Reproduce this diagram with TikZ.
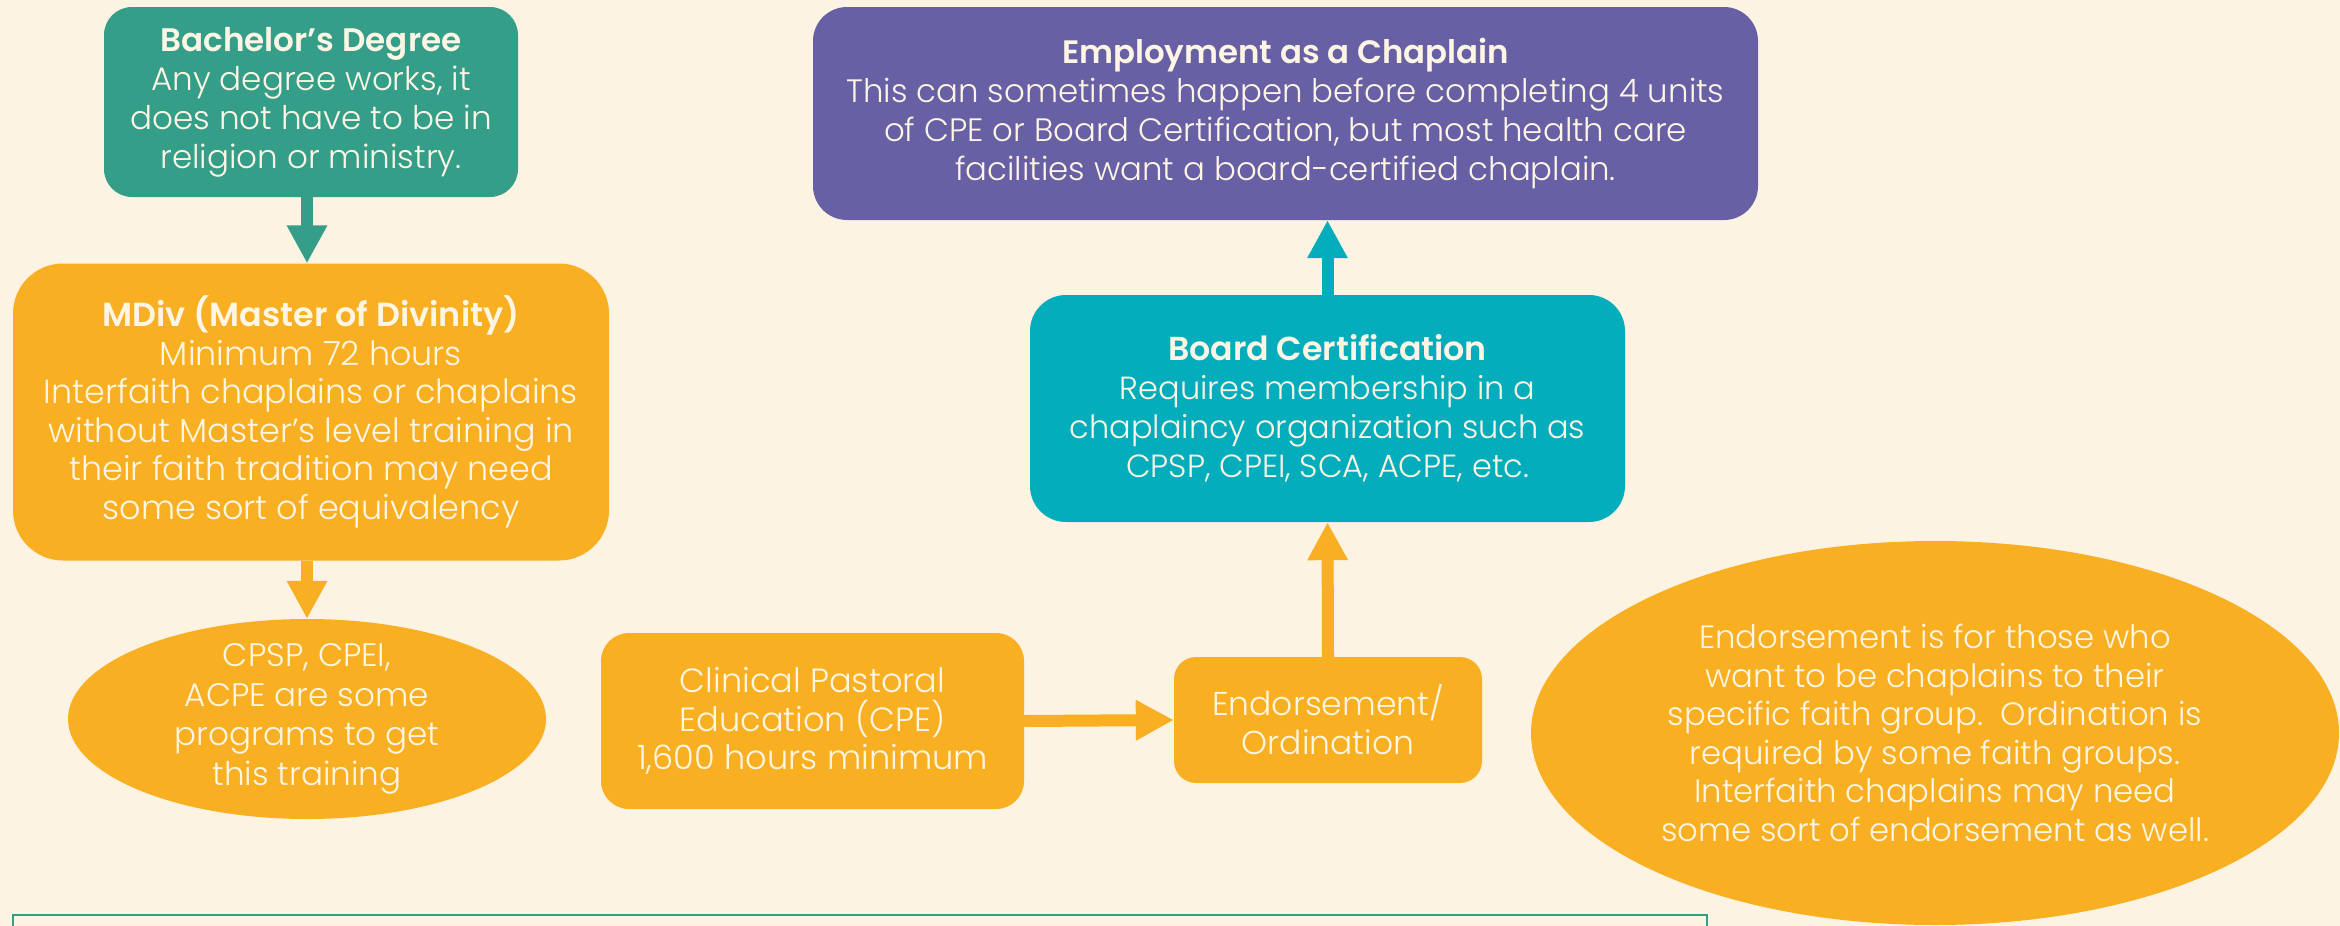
\documentclass[tikz,border=0pt]{standalone}
\usepackage{fontspec}
\IfFontExistsTF{Poppins Light}{\setmainfont{Poppins Light}}{\setmainfont{Poppins}}
\IfFontExistsTF{Poppins SemiBold}{\newfontfamily\ttlfont{Poppins SemiBold}}{\newfontfamily\ttlfontA{Poppins}\newcommand\ttlfont{\ttlfontA\bfseries}}
\usetikzlibrary{arrows.meta,shapes.geometric}
\definecolor{cbg}{RGB}{253,243,226}
\definecolor{cteal}{RGB}{52,158,137}
\definecolor{corange}{RGB}{249,175,34}
\definecolor{cpurple}{RGB}{103,96,165}
\definecolor{ccyan}{RGB}{3,173,188}
\definecolor{ctext}{RGB}{255,245,228}
\tikzset{
  boxbase/.style={rectangle, draw=none, inner sep=0pt, align=center, text=ctext},
  ovalbase/.style={ellipse, draw=none, fill=corange, inner xsep=0pt, align=center, text=ctext},
  bigarrow/.style={line width=12pt, -{Triangle[width=38pt,length=38pt]}},
}
\begin{document}
\begin{tikzpicture}[x=1pt,y=-1pt]
\useasboundingbox (0,0) rectangle (2340,926);
\fill[cbg] (0,0) rectangle (2340,926);

\node[boxbase, fill=cteal, rounded corners=28pt, minimum width=414pt, minimum height=190pt,
      font={\fontsize{32.6}{39}\selectfont}] (bach) at (311,102)
  {{\ttlfont Bachelor’s Degree}\\Any degree works, it\\does not have to be in\\religion or ministry.};

\node[boxbase, fill=corange, rounded corners=50pt, minimum width=596pt, minimum height=297pt,
      font={\fontsize{33.4}{38.5}\selectfont}] (mdiv) at (311,412)
  {{\ttlfont MDiv (Master of Divinity)}\\Minimum 72 hours\\Interfaith chaplains or chaplains\\without Master’s level training in\\their faith tradition may need\\some sort of equivalency};

\node[ovalbase, inner ysep=-14pt, minimum width=478pt, minimum height=200pt,
      font={\fontsize{32.6}{39.5}\selectfont}] (cpsp) at (307,719)
  {CPSP, CPEI,\\ACPE are some\\programs to get\\this training};

\node[boxbase, fill=corange, rounded corners=28pt, minimum width=423pt, minimum height=176pt,
      font={\fontsize{33.6}{38.5}\selectfont}] (cpe) at (812.5,721)
  {Clinical Pastoral\\Education (CPE)\\1,600 hours minimum};

\node[boxbase, fill=corange, rounded corners=22pt, minimum width=308pt, minimum height=126pt,
      font={\fontsize{33}{39}\selectfont}] (endo) at (1328,720)
  {Endorsement/\\Ordination};

\node[boxbase, fill=ccyan, rounded corners=36pt, minimum width=595pt, minimum height=227pt,
      font={\fontsize{32}{39}\selectfont}] (board) at (1327.5,408.5)
  {{\fontsize{33.2}{39}\selectfont\ttlfont Board Certification}\\Requires membership in a\\chaplaincy organization such as\\CPSP, CPEI, SCA, ACPE, etc.};

\node[boxbase, fill=cpurple, rounded corners=34pt, minimum width=945pt, minimum height=213pt,
      font={\fontsize{32.4}{39}\selectfont}] (emp) at (1285.5,113.5)
  {{\ttlfont Employment as a Chaplain}\\This can sometimes happen before completing 4 units\\of CPE or Board Certification, but most health care\\facilities want a board-certified chaplain.};

\node[ovalbase, inner ysep=0pt, minimum width=808pt, minimum height=384pt,
      font={\fontsize{32.3}{38.5}\selectfont}] (note) at (1935,733)
  {Endorsement is for those who\\want to be chaplains to their\\specific faith group.\ \ Ordination is\\required by some faith groups.\\Interfaith chaplains may need\\some sort of endorsement as well.};

\draw[bigarrow, cteal] (bach.south -| cpsp.north) -- (mdiv.north -| cpsp.north);
\draw[bigarrow, corange] (mdiv.south -| cpsp.north) -- (cpsp.north);
\draw[bigarrow, corange] (cpe.east) -- (endo.west);
\draw[bigarrow, corange] (endo.north) -- (board.south);
\draw[bigarrow, ccyan] (board.north) -- (board.north |- emp.south);

\begin{scope}
\clip (0,0) rectangle (2340,926);
\coordinate (fl) at (13,940);
\coordinate (fr) at (1707,940);
\draw[cteal, line width=2.5pt] (fl) |- (1707,915) -- (fr);
\end{scope}
\end{tikzpicture}
\end{document}
